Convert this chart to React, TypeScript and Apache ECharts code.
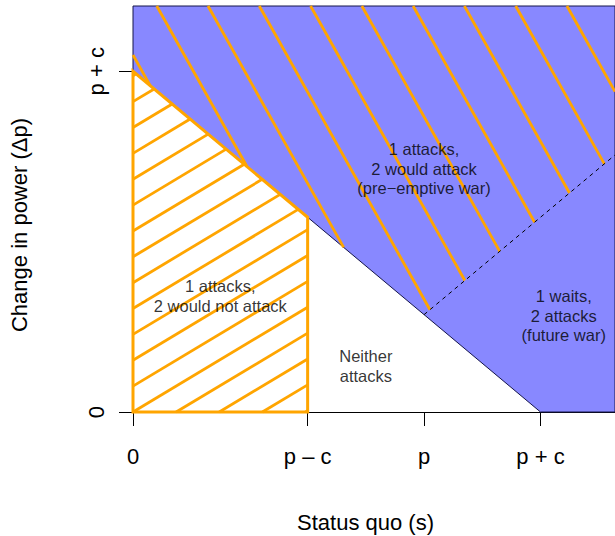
import React, { useEffect, useRef } from "react";
import * as echarts from "echarts";

// ---- axis extents (data units: c = 1, p = 2.5) ----
const xMax = 4.14;
const yMax = 4.17;

// ---- ticks ----
const xTickValues = [0, 1.5, 2.5, 3.5];
const xTickLabels = ["0", "p – c", "p", "p + c"];
const yTickValues = [0, 3.5];
const yTickLabels = ["0", "p + c"];

// ---- regions (data coordinates) ----
const blueRegion = [
  [0, yMax],
  [0, 3.5],
  [3.5, 0],
  [xMax, 0],
  [xMax, yMax],
];
const wouldNotAttackRegion = [
  [0, 0],
  [1.5, 0],
  [1.5, 2],
  [0, 3.5],
];
const preemptiveRegion = [
  [0, yMax],
  [0, 3.5],
  [2.5, 1],
  [xMax, xMax - 1.5],
  [xMax, yMax],
];
const futureWarBoundary = [
  [2.5, 1],
  [xMax, xMax - 1.5],
];

// ---- region labels ----
const labelTexts = [
  "1 attacks,\n2 would attack\n(pre−emptive war)",
  "1 attacks,\n2 would not attack",
  "Neither\nattacks",
  "1 waits,\n2 attacks\n(future war)",
];
const labelX = [2.5, 0.75, 2.0, 3.7];
const labelY = [2.5, 1.19, 0.47, 0.99];

const FONT = '"Liberation Sans", Arial, Helvetica, sans-serif';
const ORANGE = "#FFA500";
const BLUE = "#8888FF";

type Pt = number[];

function hatchSegments(pts: Pt[], angleDeg: number, spacing: number, anchor: Pt) {
  const a = (angleDeg * Math.PI) / 180;
  const d = [Math.cos(a), -Math.sin(a)];
  const n = [-d[1], d[0]];
  const vals = pts.map((p) => n[0] * (p[0] - anchor[0]) + n[1] * (p[1] - anchor[1]));
  const lo = Math.min(...vals);
  const hi = Math.max(...vals);
  const segs: Pt[][] = [];
  for (let k = Math.ceil(lo / spacing); k * spacing <= hi; k++) {
    const c = k * spacing;
    const hits: Pt[] = [];
    for (let i = 0; i < pts.length; i++) {
      const j = (i + 1) % pts.length;
      const fp = vals[i] - c;
      const fq = vals[j] - c;
      if ((fp <= 0 && fq > 0) || (fp > 0 && fq <= 0)) {
        const t = fp / (fp - fq);
        hits.push([
          pts[i][0] + t * (pts[j][0] - pts[i][0]),
          pts[i][1] + t * (pts[j][1] - pts[i][1]),
        ]);
      }
    }
    if (hits.length >= 2) {
      hits.sort((u, v) => u[0] * d[0] + u[1] * d[1] - (v[0] * d[0] + v[1] * d[1]));
      const s = hits[0];
      const e = hits[hits.length - 1];
      if (Math.hypot(s[0] - e[0], s[1] - e[1]) > 0.5) segs.push([s, e]);
    }
  }
  return segs;
}

function regionSeries(
  poly: Pt[],
  opts: {
    fill?: string;
    stroke?: string;
    strokeWidth?: number;
    hatch?: { angle: number; spacing: number; anchor: Pt; color: string; width: number };
    z: number;
  }
) {
  return {
    type: "custom",
    coordinateSystem: "cartesian2d",
    data: [[0, 0]],
    z: opts.z,
    silent: true,
    clip: false,
    renderItem: (_params: any, api: any) => {
      const pts = poly.map((p) => api.coord(p));
      const children: any[] = [];
      if (opts.fill) {
        children.push({
          type: "polygon",
          shape: { points: pts },
          style: { fill: opts.fill, stroke: "none" },
        });
      }
      if (opts.hatch) {
        const h = opts.hatch;
        const anchor = api.coord(h.anchor);
        hatchSegments(pts, h.angle, h.spacing, anchor).forEach((s) => {
          children.push({
            type: "line",
            shape: { x1: s[0][0], y1: s[0][1], x2: s[1][0], y2: s[1][1] },
            style: { stroke: h.color, lineWidth: h.width, lineCap: "butt" },
          });
        });
      }
      if (opts.stroke) {
        children.push({
          type: "polygon",
          shape: { points: pts },
          style: { fill: "none", stroke: opts.stroke, lineWidth: opts.strokeWidth || 1, lineJoin: "miter" },
        });
      }
      return { type: "group", children };
    },
  };
}

export default function App() {
  const ref = useRef<HTMLDivElement>(null);
  useEffect(() => {
    if (!ref.current) return;
    const chart = echarts.init(ref.current, undefined, { renderer: "svg" });
    const xLabelMap: Record<string, string> = {};
    xTickValues.forEach((v, i) => (xLabelMap[String(v)] = xTickLabels[i]));
    const yLabelMap: Record<string, string> = {};
    yTickValues.forEach((v, i) => (yLabelMap[String(v)] = yTickLabels[i]));

    chart.setOption({
      animation: false,
      backgroundColor: "#ffffff",
      grid: { left: 133, right: 0, top: 6, bottom: 124, containLabel: false },
      xAxis: {
        type: "value",
        min: 0,
        max: xMax,
        splitLine: { show: false },
        axisLine: { show: true, onZero: false, lineStyle: { color: "#000", width: 1 } },
        axisTick: {
          show: true,
          customValues: xTickValues,
          length: 14,
          lineStyle: { color: "#000", width: 1 },
        },
        axisLabel: {
          show: true,
          customValues: xTickValues,
          formatter: (v: number) => xLabelMap[String(v)] ?? "",
          margin: 33,
          fontSize: 22,
          fontFamily: FONT,
          color: "#000",
        },
      },
      yAxis: {
        type: "value",
        min: 0,
        max: yMax,
        splitLine: { show: false },
        axisLine: { show: false },
        axisTick: {
          show: true,
          customValues: yTickValues,
          length: 14,
          lineStyle: { color: "#000", width: 1 },
        },
        axisLabel: {
          show: true,
          customValues: yTickValues,
          formatter: (v: number) => yLabelMap[String(v)] ?? "",
          rotate: 90,
          margin: 26,
          fontSize: 22,
          fontFamily: FONT,
          color: "#000",
        },
      },
      graphic: [
        {
          type: "text",
          x: 365.5,
          y: 522,
          style: {
            text: "Status quo (s)",
            fontSize: 22,
            fontFamily: FONT,
            fill: "#000",
            align: "center",
            verticalAlign: "middle",
          },
        },
        {
          type: "text",
          x: 19.5,
          y: 225,
          rotation: Math.PI / 2,
          style: {
            text: "Change in power (Δp)",
            fontSize: 22,
            fontFamily: FONT,
            fill: "#000",
            align: "center",
            verticalAlign: "middle",
          },
        },
      ],
      series: [
        regionSeries(blueRegion, { fill: BLUE, stroke: "#14144a", strokeWidth: 1, z: 1 }),
        regionSeries(preemptiveRegion, {
          hatch: { angle: -60.67, spacing: 44.7, anchor: [0.204, yMax], color: ORANGE, width: 2.8 },
          z: 2,
        }),
        regionSeries(wouldNotAttackRegion, {
          stroke: ORANGE,
          strokeWidth: 3,
          hatch: { angle: 30.96, spacing: 22.18, anchor: [0, 0], color: ORANGE, width: 2.8 },
          z: 3,
        }),
        {
          type: "line",
          data: futureWarBoundary,
          symbol: "none",
          z: 4,
          silent: true,
          lineStyle: { color: "#000", width: 1, type: [4, 4] },
        },
        {
          type: "scatter",
          z: 5,
          silent: true,
          symbolSize: 0,
          data: labelTexts.map((t, i) => ({ value: [labelX[i], labelY[i]], name: t })),
          label: {
            show: true,
            position: "inside",
            formatter: "{b}",
            fontSize: 16.5,
            lineHeight: 19.5,
            fontFamily: FONT,
            color: "#000",
            align: "center",
          },
        },
      ],
    });
    return () => chart.dispose();
  }, []);
  return (
    <div
      ref={ref}
      style={{ position: "absolute", left: 0, top: 0, width: 615, height: 536 }}
    />
  );
}
